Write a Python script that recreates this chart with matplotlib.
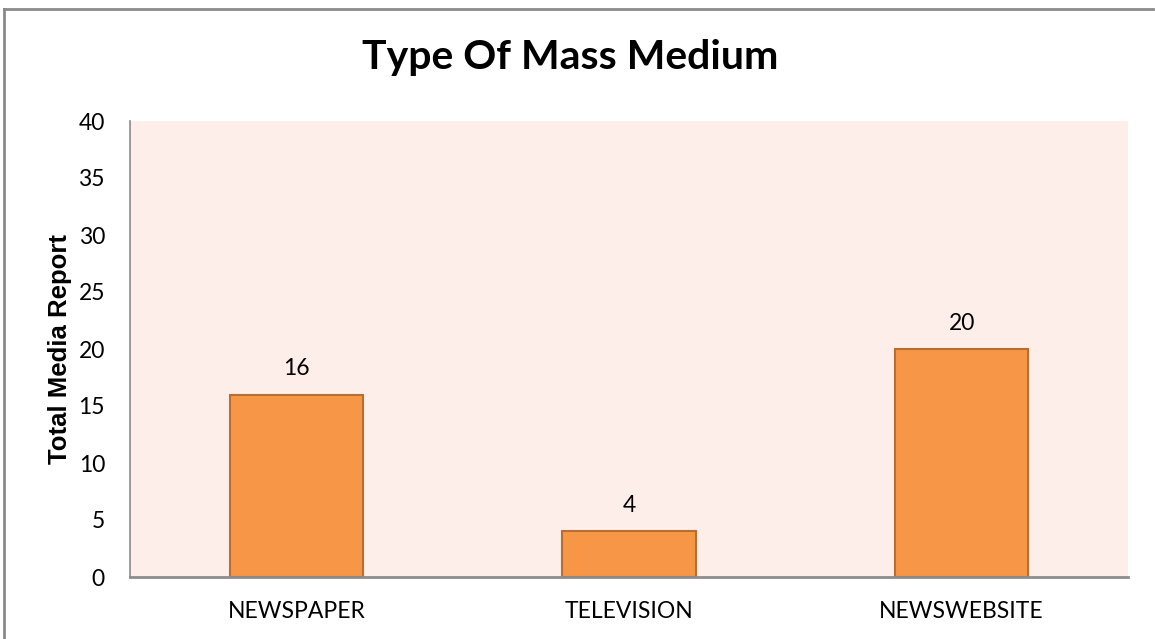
import matplotlib
matplotlib.use('Agg')
import matplotlib.pyplot as plt
from matplotlib.lines import Line2D

CATEGORIES = ['NEWSPAPER', 'TELEVISION', 'NEWSWEBSITE']
TOTALS = [16, 4, 20]
Y_TICKS = [0, 5, 10, 15, 20, 25, 30, 35, 40]

BAR_COLOR = '#F79646'
EDGE_COLOR = '#B86D33'
PLOT_BG = '#FDEEE9'
AXIS_GRAY = '#8C8C8C'

plt.rcParams['font.family'] = ['Lato', 'DejaVu Sans']

fig = plt.figure(figsize=(11.55, 6.39), dpi=100)
fig.patch.set_facecolor('white')
ax = fig.add_axes([130 / 1155, (639 - 577) / 639, 998 / 1155, (577 - 121) / 639])
ax.set_facecolor(PLOT_BG)

positions = list(range(len(CATEGORIES)))
bars = ax.bar(positions, TOTALS, width=0.4, color=BAR_COLOR, edgecolor=EDGE_COLOR, linewidth=1.5, zorder=3)
ax.bar_label(bars, labels=[str(v) for v in TOTALS], padding=11, fontsize=16.5, color='black')

ax.set_xlim(-0.5, 2.5)
ax.set_ylim(0, 40)
ax.set_yticks(Y_TICKS)
ax.set_xticks(positions)
ax.set_xticklabels(CATEGORIES)
ax.tick_params(axis='y', length=0, pad=18, labelsize=16.5)
ax.tick_params(axis='x', length=0, pad=17, labelsize=16.5)

for side in ['top', 'right']:
    ax.spines[side].set_visible(False)
ax.spines['left'].set_color(AXIS_GRAY)
ax.spines['bottom'].set_color(AXIS_GRAY)
ax.spines['left'].set_linewidth(1.2)
ax.spines['bottom'].set_linewidth(2)
ax.spines['bottom'].set_zorder(4)

ax.set_ylabel('Total Media Report', fontsize=18.5, fontweight='bold', family=['Liberation Sans'], labelpad=5)

fig.text(0.494, 1 - 57 / 639, 'Type Of Mass Medium', ha='center', va='center', fontsize=29.5, fontweight='bold')

# outer chart border (left and top visible)
fig.add_artist(Line2D([3.5 / 1155, 3.5 / 1155], [0, 1 - 8.5 / 639], color='#8A8A8A', linewidth=2, transform=fig.transFigure))
fig.add_artist(Line2D([3.5 / 1155, 1153 / 1155], [1 - 8.5 / 639, 1 - 8.5 / 639], color='#8A8A8A', linewidth=2, transform=fig.transFigure))

fig.savefig('out.png', dpi=100)
